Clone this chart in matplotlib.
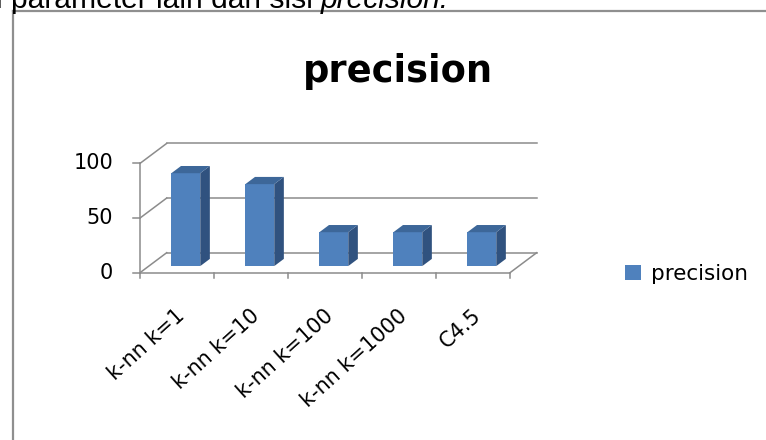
import matplotlib.pyplot as plt
from matplotlib.patches import Polygon, Rectangle

categories = ['k-nn k=1', 'k-nn k=10', 'k-nn k=100', 'k-nn k=1000', 'C4.5']
precision = [85, 75, 31, 31, 31]
yticks = [0, 50, 100]
series_name = 'precision'

W, H = 766, 440
fig = plt.figure(figsize=(W / 100, H / 100), dpi=100)

# axes over the whole picture, scaled so the chart floor sits where it should
x0px, xstep = 140, 74.0     # left end of x axis, pixels per category
y0px, ystep = 272.7, 1.093  # y of the zero line (from top), pixels per unit
ax = fig.add_axes([0, 0, 1, 1])
ax.set_xlim(-x0px / xstep, (W - x0px) / xstep)
ax.set_ylim(-(H - y0px) / ystep, y0px / ystep)
ax.axis('off')

DX, DY = 26.7 / xstep, 20 / ystep   # depth of the 3d box
BW = 0.39                           # bar width
F0, F1 = 0.33, 0.69                 # bar front / back as part of depth
grid = '#8c8c8c'
lw = 1.1
n = len(categories)

# walls and floor
for t in yticks:
    ax.plot([DX, n + DX], [t + DY, t + DY], color=grid, lw=lw, zorder=1)
    ax.plot([0, DX], [t, t + DY], color=grid, lw=lw, zorder=1)
    ax.plot([-0.095, 0], [t, t], color=grid, lw=lw, zorder=1)
ax.plot([n, n + DX], [0, DY], color=grid, lw=lw, zorder=1)
ax.plot([0, 0], [0, max(yticks)], color=grid, lw=lw, zorder=3)
ax.plot([0, n], [0, 0], color=grid, lw=lw, zorder=3)
for i in range(n + 1):
    ax.plot([i, i], [0, -4.5], color=grid, lw=lw, zorder=3)

# bars
front_c, side_c, top_c = '#4f81bd', '#30527f', '#3d6799'
for i, v in enumerate(precision):
    bx = i + (1 - BW) / 2 + F0 * DX
    by = F0 * DY
    ddx, ddy = (F1 - F0) * DX, (F1 - F0) * DY
    front = Rectangle((bx, by), BW, v, facecolor=front_c, edgecolor='none', zorder=4,
                      label=series_name if i == 0 else None)
    ax.add_patch(front)
    side = Polygon([(bx + BW, by), (bx + BW + ddx, by + ddy),
                    (bx + BW + ddx, by + v + ddy), (bx + BW, by + v)],
                   closed=True, facecolor=side_c, edgecolor='none', zorder=4)
    ax.add_patch(side)
    top = Polygon([(bx, by + v), (bx + BW, by + v),
                   (bx + BW + ddx, by + v + ddy), (bx + ddx, by + v + ddy)],
                  closed=True, facecolor=top_c, edgecolor='none', zorder=4)
    ax.add_patch(top)

# tick labels
for t in yticks:
    ax.text(-0.365, t, str(t), ha='right', va='center', fontsize=15, color='black')
for i, c in enumerate(categories):
    ax.text(i + 0.57, -36.9, c, ha='right', va='center', rotation=42,
            rotation_mode='anchor', fontsize=15, color='black')

# title
fig.text(398 / W, 1 - 72 / H, 'precision', ha='center', va='center',
         fontsize=26.5, fontweight='bold')

# legend
ax.legend(loc='center left', bbox_to_anchor=(625 / W, 1 - 274 / H),
          bbox_transform=fig.transFigure, frameon=False, fontsize=15.5,
          handlelength=0.72, handleheight=0.72, handletextpad=0.48,
          borderpad=0, borderaxespad=0)

# chart frame and the document line above it
fig.add_artist(plt.Line2D([13 / W, 1], [1 - 11 / H, 1 - 11 / H], color='#8f8f8f', lw=1.6))
fig.add_artist(plt.Line2D([13 / W, 13 / W], [0, 1 - 11 / H], color='#8f8f8f', lw=1.6))
t1 = fig.text(-4 / W, 1 - 8 / H, 'i parameter lain dari sisi ', ha='left', va='baseline',
              fontsize=21.6, family='Liberation Sans')
fig.canvas.draw()
bb = t1.get_window_extent()
fig.text(bb.x1 / W, 1 - 8 / H, 'precision.', ha='left', va='baseline',
         fontsize=21.6, family='Liberation Sans', style='italic')

fig.savefig('out.png', dpi=100)
